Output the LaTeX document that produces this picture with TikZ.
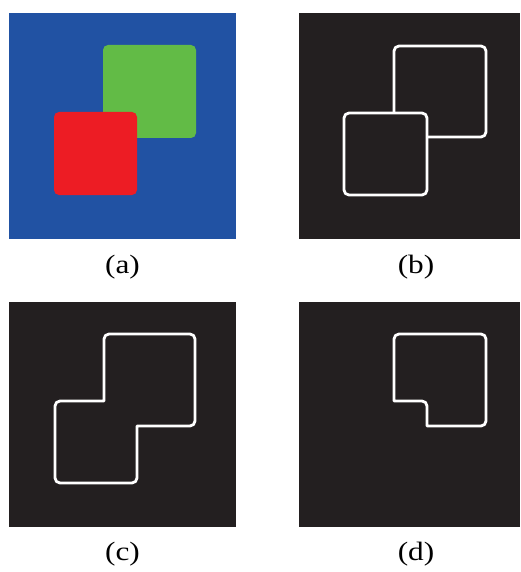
\documentclass[tikz,border=0pt]{standalone}
\usepackage{fontspec}
\setmainfont{Liberation Serif}
\definecolor{bgblue}{HTML}{2152A3}
\definecolor{sqgreen}{HTML}{62BB46}
\definecolor{sqred}{HTML}{ED1C24}
\definecolor{panelbg}{HTML}{231F20}
\tikzset{
  panel/.style={fill=panelbg, draw=none},
  outline/.style={draw=white, line width=2.8pt, line join=round},
  caption/.style={anchor=base, inner sep=0pt, font=\fontsize{26.5}{30}\selectfont},
}
\newcommand{\mycap}[1]{\scalebox{1.18}[1]{#1}}
\begin{document}
\begin{tikzpicture}[x=1pt,y=-1pt]
\useasboundingbox[fill=white] (0,0) rectangle (520,572);
% (a)
\fill[bgblue] (9,13) rectangle (236,239);
\fill[sqgreen, rounded corners=5pt] (103,45) rectangle (196,138);
\fill[sqred, rounded corners=5pt] (54,112) rectangle (137,195);
% (b)
\fill[panelbg] (299,13) rectangle (520,239);
\draw[outline, rounded corners=5pt] (394,46) rectangle (486,137);
\fill[panelbg, rounded corners=5pt] (344,113) rectangle (427,195);
\draw[outline, rounded corners=5pt] (344,113) rectangle (427,195);
% (c)
\fill[panelbg] (9,302) rectangle (236,527);
\draw[outline] (104,401) -- (104,339) arc[start angle=180,end angle=270,radius=5]
  -- (190,334) arc[start angle=270,end angle=360,radius=5]
  -- (195,421) arc[start angle=0,end angle=90,radius=5]
  -- (137,426) -- (137,478) arc[start angle=0,end angle=90,radius=5]
  -- (60,483) arc[start angle=90,end angle=180,radius=5]
  -- (55,406) arc[start angle=180,end angle=270,radius=5]
  -- cycle;
% (d)
\fill[panelbg] (299,302) rectangle (520,527);
\draw[outline] (394,401) -- (394,339) arc[start angle=180,end angle=270,radius=5]
  -- (481,334) arc[start angle=270,end angle=360,radius=5]
  -- (486,421) arc[start angle=0,end angle=90,radius=5]
  -- (427,426) -- (427,406) arc[start angle=360,end angle=270,radius=5]
  -- cycle;
% captions
\node[caption] (capa) at (122.5,273.5) {\mycap{(a)}};
\node[caption] (capb) at (416,273.5) {\mycap{(b)}};
\node[caption] (capc) at (122.5,560) {\mycap{(c)}};
\node[caption] (capd) at (416,560) {\mycap{(d)}};
\end{tikzpicture}
\end{document}
